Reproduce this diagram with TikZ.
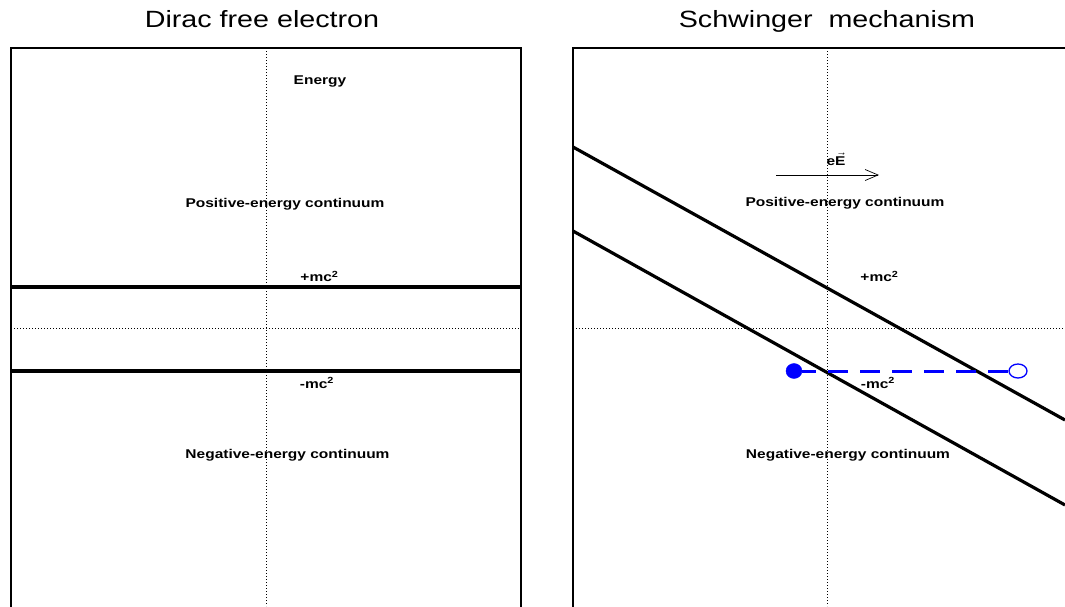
\documentclass[tikz,border=0pt]{standalone}
\usepackage{fontspec}
\setmainfont{Liberation Sans}
\usepackage{xcolor}
\usepackage{tikz}
\usetikzlibrary{arrows.meta,shapes.geometric}

\begin{document}
\begin{tikzpicture}[x=1pt,y=-1pt,
  title/.style={font=\fontsize{23.5}{26}\selectfont, xscale=1.22, anchor=base},
  lbl/.style={font=\bfseries\fontsize{12.7}{14}\selectfont, xscale=1.22, anchor=base},
  axis/.style={line width=0.8pt, dash pattern=on 1.1pt off 1.9pt},
  level/.style={line width=3.2pt},
  frame/.style={line width=2pt}]
\useasboundingbox (0,0) rectangle (1065,606);
\clip (0,0) rectangle (1065,606);

% titles
\node[title] (tdirac) at (262,27) {Dirac free electron};
\node[title] (tschw) at (827,27) {Schwinger\ \ mechanism};

% left panel: free electron
\draw[frame] (11,48) rectangle (521,640);
\draw[axis] (266,48) -- (266,606);
\draw[axis] (11,328) -- (521,328);
\draw[level] (11,287) -- (521,287);
\draw[level] (11,371) -- (521,371);
\node[lbl] (energy) at (320,84.5) {Energy};
\node[lbl] (posL) at (285,207) {Positive-energy continuum};
\node[lbl] (plusL) at (319.5,281.7) {+mc\textsuperscript{2}};
\node[lbl] (minusL) at (317,388.3) {-mc\textsuperscript{2}};
\node[lbl] (negL) at (287.5,458.3) {Negative-energy continuum};

% right panel: tilted bands
\draw[frame] (573,48) rectangle (1100,640);
\draw[axis] (827,48) -- (827,606);
\draw[axis] (573,328) -- (1065,328);
\draw[level] (573,147) -- (1065,420);
\draw[level] (573,231) -- (1065,505);
\coordinate (fstart) at (776,175);
\coordinate (fend) at (879,175);
\draw[line width=0.7pt, -{Straight Barb[length=13pt,width=11pt]}] (fstart) -- (fend);
\node[lbl] (field) at (836,165) {e$\vec{\mbox{\bfseries E}}$};
\node[lbl] (posR) at (845,206.7) {Positive-energy continuum};
\node[lbl] (plusR) at (879.5,281.7) {+mc\textsuperscript{2}};
\node[lbl] (minusR) at (878,388.3) {-mc\textsuperscript{2}};
\node[lbl] (negR) at (848,458.3) {Negative-energy continuum};

% pair: electron and hole
\node[ellipse, fill=blue, draw=blue, minimum width=16pt, minimum height=15pt, inner sep=0pt] (elec) at (794,371) {};
\node[ellipse, fill=white, draw=blue, line width=1.3pt, minimum width=18pt, minimum height=14pt, inner sep=0pt] (hole) at (1018,371) {};
\draw[blue, line width=3pt, dash pattern=on 20pt off 12pt, dash phase=6pt] (elec) -- (hole);
\end{tikzpicture}
\end{document}
